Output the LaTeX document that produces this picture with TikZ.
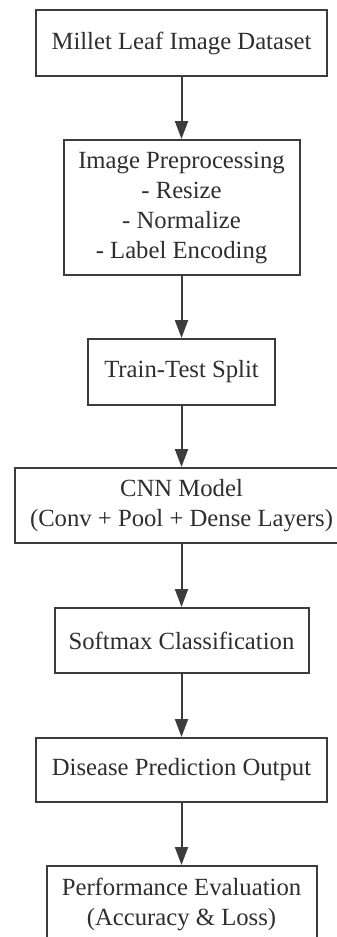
\documentclass[tikz,border=0pt]{standalone}
\usepackage{fontspec}
\setmainfont{Liberation Serif}
\usetikzlibrary{arrows.meta}
\definecolor{lc}{HTML}{3C3C3C}
\definecolor{tc}{HTML}{2E2E2E}
\begin{document}
\begin{tikzpicture}[x=1pt,y=-1pt,
  box/.style={draw=lc,line width=2pt,rectangle,inner sep=0pt,align=center,
    text=tc,font=\fontsize{24.7}{30}\selectfont},
  arr/.style={draw=lc,line width=2pt,-{Triangle[length=18pt,width=13pt]}}]
\useasboundingbox (0,0) rectangle (337,937);
\clip (0,0) rectangle (337,937);
\node[box,minimum width=291pt,minimum height=66pt] (n1) at (181.5,43) {Millet Leaf Image Dataset};
\node[box,minimum width=236pt,minimum height=135pt] (n2) at (181.5,207.5) {Image Preprocessing\\- Resize\\- Normalize\\- Label Encoding};
\node[box,minimum width=187pt,minimum height=66pt] (n3) at (181.5,372) {Train-Test Split};
\node[box,minimum width=333pt,minimum height=75pt] (n4) at (181.5,505.5) {CNN Model\\(Conv + Pool + Dense Layers)};
\node[box,minimum width=254pt,minimum height=65pt] (n5) at (181.5,640.5) {Softmax Classification};
\node[box,minimum width=291pt,minimum height=64pt] (n6) at (181.5,770) {Disease Prediction Output};
\node[box,minimum width=270pt,minimum height=76pt] (n7) at (181.5,904) {Performance Evaluation\\(Accuracy \& Loss)};
\draw[arr] (n1) -- (n2);
\draw[arr] (n2) -- (n3);
\draw[arr] (n3) -- (n4);
\draw[arr] (n4) -- (n5);
\draw[arr] (n5) -- (n6);
\draw[arr] (n6) -- (n7);
\end{tikzpicture}
\end{document}
